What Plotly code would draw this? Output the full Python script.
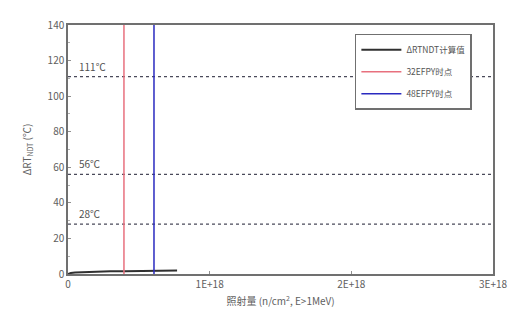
import plotly.graph_objects as go

# data
fluence = [0, 0.02e18, 0.05e18, 0.1e18, 0.2e18, 0.3e18, 0.4e18, 0.5e18, 0.6e18, 0.7e18, 0.77e18]
delta_rt = [0.0, 0.6, 0.9, 1.1, 1.3, 1.5, 1.6, 1.75, 1.85, 1.95, 2.0]
efpy32_x = 0.395e18
efpy48_x = 0.607e18
limits = [111, 56, 28]
limit_labels = ["111℃", "56℃", "28℃"]
x_tickvals = [0, 1e18, 2e18, 3e18]
x_ticktext = ["0", "1E+18", "2E+18", "3E+18"]
x_max = 3e18
y_max = 140

font = "Noto Sans CJK SC"
fig = go.Figure()

for v in limits:
    fig.add_trace(go.Scatter(x=[0, x_max], y=[v, v], mode="lines",
                             line=dict(color="#4a4a5a", width=1.3, dash="3px,3px"),
                             showlegend=False, hoverinfo="skip"))

fig.add_trace(go.Scatter(x=fluence, y=delta_rt, mode="lines", name="ΔRTNDT计算值",
                         legendgroup="a", line=dict(color="#303030", width=2)))
fig.add_trace(go.Scatter(x=[efpy32_x, efpy32_x], y=[0, y_max], mode="lines", name="32EFPY时点",
                         legendgroup="b", line=dict(color="#e8707e", width=1.5)))
fig.add_trace(go.Scatter(x=[efpy48_x, efpy48_x], y=[0, y_max], mode="lines", name="48EFPY时点",
                         legendgroup="c", line=dict(color="#2a2ac0", width=1.5)))

for v, t in zip(limits, limit_labels):
    fig.add_annotation(x=0.06e18, y=v, text=t, showarrow=False, xanchor="left", yanchor="bottom",
                       yshift=1, font=dict(family=font, size=10, color="#505050"))

# page body has an 8px margin, so the figure is sized/offset to compensate
fig.update_layout(
    width=511, height=319,
    margin=dict(l=60, r=26, t=8, b=53),
    paper_bgcolor="white", plot_bgcolor="white",
    font=dict(family=font, size=10, color="#606060"),
    legend=dict(x=0.675, y=0.965, xanchor="left", yanchor="top",
                bordercolor="#707070", borderwidth=1.5, bgcolor="white",
                font=dict(size=8.5, color="#555555"), itemwidth=40, tracegroupgap=3),
    xaxis=dict(range=[0, x_max], tickvals=x_tickvals, ticktext=x_ticktext,
               showgrid=False, zeroline=False, showline=True, linecolor="#707070",
               linewidth=1.5, mirror=True, ticks="inside", ticklen=3, tickcolor="#909090",
               title=dict(text="照射量 (n/cm<sup>2</sup>, E>1MeV)", font=dict(size=10), standoff=8)),
    yaxis=dict(range=[0, y_max], dtick=20, showgrid=False, zeroline=False, showline=True,
               linecolor="#707070", linewidth=1.5, mirror=True, ticks="inside", ticklen=3,
               tickcolor="#909090", minor=dict(dtick=10, ticks="inside", ticklen=2, tickcolor="#b0b0b0"),
               title=dict(text="ΔRT<sub>NDT</sub> (℃)", font=dict(size=10), standoff=14)),
)

fig.write_html("out.html")
